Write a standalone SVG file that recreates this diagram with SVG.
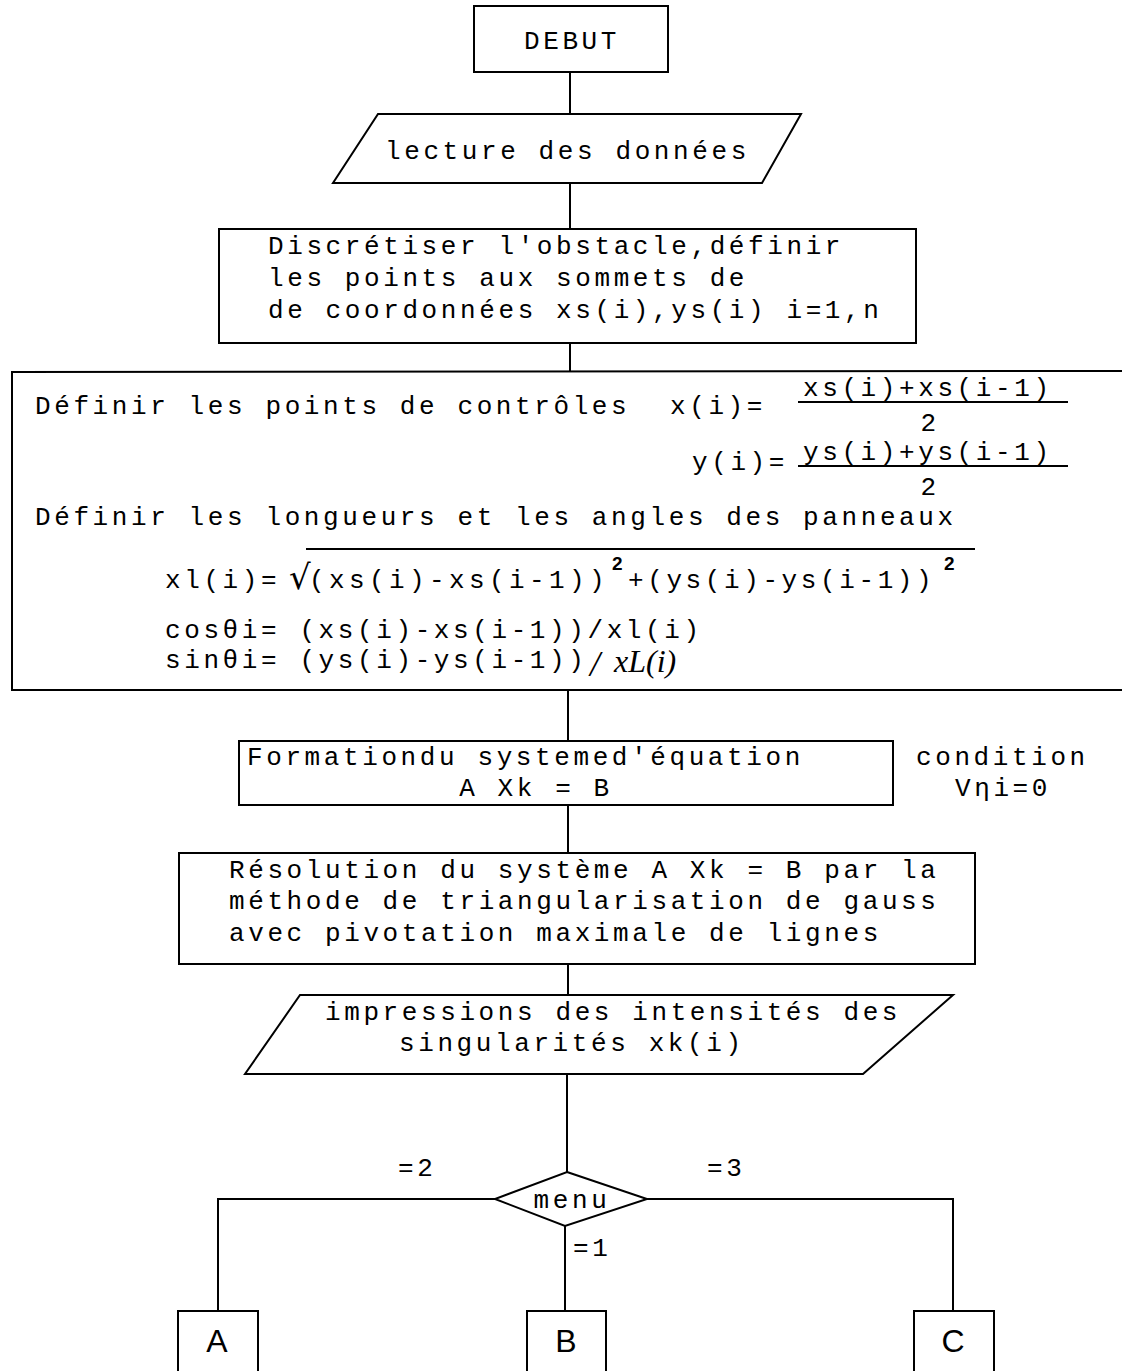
<svg xmlns="http://www.w3.org/2000/svg" width="1122" height="1371" viewBox="0 0 1122 1371">
<style>
.t{font-family:"Liberation Mono","Courier New",monospace;font-size:26px;letter-spacing:3.6px;fill:#000}
.c{text-anchor:middle}
.sup{font-family:"Liberation Sans",Arial,sans-serif;font-size:19px;font-weight:bold;fill:#000}
.hw{font-family:"Liberation Serif","Times New Roman",serif;font-style:italic;font-size:32px;fill:#000}
.big{font-family:"Liberation Sans",Arial,sans-serif;font-size:32px;fill:#000;text-anchor:middle}
.b{fill:#fff;stroke:#000;stroke-width:2}
.ln{fill:none;stroke:#000;stroke-width:2}
</style>
<rect width="1122" height="1371" fill="#fff"/>
<g id="connectors">
<line class="ln" x1="570" y1="72" x2="570" y2="114"/>
<line class="ln" x1="570" y1="183" x2="570" y2="229"/>
<line class="ln" x1="570" y1="343" x2="570" y2="372"/>
<line class="ln" x1="568" y1="690" x2="568" y2="741"/>
<line class="ln" x1="568" y1="805" x2="568" y2="853"/>
<line class="ln" x1="568" y1="964" x2="568" y2="995"/>
<line class="ln" x1="567" y1="1074" x2="567" y2="1172"/>
<polyline class="ln" points="495,1199 218,1199 218,1311"/>
<polyline class="ln" points="647,1199 953,1199 953,1311"/>
<line class="ln" x1="565" y1="1226" x2="565" y2="1311"/>
<text class="t" x="398" y="1176">=2</text>
<text class="t" x="707" y="1176">=3</text>
<text class="t" x="573" y="1256">=1</text>
</g>
<g id="debut">
<rect class="b" x="474" y="6" width="194" height="66"/>
<text class="t c" x="572" y="49">DEBUT</text>
</g>
<g id="lecture">
<polygon class="b" points="378,114 801,114 762,183 333,183"/>
<text class="t" x="385" y="159">lecture des données</text>
</g>
<g id="discretiser">
<rect class="b" x="219" y="229" width="697" height="114"/>
<text class="t" x="268" y="254">Discrétiser l'obstacle,définir</text>
<text class="t" x="268" y="286">les points aux sommets de</text>
<text class="t" x="268" y="318">de coordonnées xs(i),ys(i) i=1,n</text>
</g>
<g id="definir">
<path class="ln" d="M1122,371 L12,372 L12,690 L1122,690"/>
<text class="t" x="35" y="414">Définir les points de contrôles</text>
<text class="t" x="670" y="414">x(i)=</text>
<text class="t" x="803" y="396">xs(i)+xs(i-1)</text>
<line class="ln" x1="798" y1="402" x2="1068" y2="402"/>
<text class="t c" x="930" y="431">2</text>
<text class="t" x="692" y="470">y(i)=</text>
<text class="t" x="803" y="460">ys(i)+ys(i-1)</text>
<line class="ln" x1="798" y1="466" x2="1068" y2="466"/>
<text class="t c" x="930" y="495">2</text>
<text class="t" x="35" y="525">Définir les longueurs et les angles des panneaux</text>
<text class="t" x="165" y="588">xl(i)=</text>
<text x="289" y="589" style="font-family:'DejaVu Sans',sans-serif;font-size:34px">√</text>
<line class="ln" x1="306" y1="549" x2="975" y2="549"/>
<text class="t" x="309" y="588" style="letter-spacing:4.4px">(xs(i)-xs(i-1))</text>
<text class="sup" x="612" y="570">2</text>
<text class="t" x="628" y="588">+(ys(i)-ys(i-1))</text>
<text class="sup" x="944" y="570">2</text>
<text class="t" x="165" y="638">cosθi= (xs(i)-xs(i-1))/xl(i)</text>
<text class="t" x="165" y="668">sinθi= (ys(i)-ys(i-1))</text>
<text x="590" y="676" style="font-family:'Liberation Serif',serif;font-style:italic;font-size:36px">/</text>
<text class="hw" x="614" y="672">xL(i)</text>
</g>
<g id="formation">
<rect class="b" x="239" y="741" width="654" height="64"/>
<text class="t" x="247" y="765">Formationdu systemed'équation</text>
<text class="t c" x="536" y="796">A Xk = B</text>
</g>
<g id="condition">
<text class="t" x="916" y="765">condition</text>
<text class="t c" x="1003" y="796">Vηi=0</text>
</g>
<g id="resolution">
<rect class="b" x="179" y="853" width="796" height="111"/>
<text class="t" x="229" y="878">Résolution du système A Xk = B par la</text>
<text class="t" x="229" y="909">méthode de triangularisation de gauss</text>
<text class="t" x="229" y="941">avec pivotation maximale de lignes</text>
</g>
<g id="impressions">
<polygon class="b" points="300,995 953,995 863,1074 245,1074"/>
<text class="t" x="325" y="1020">impressions des intensités des</text>
<text class="t" x="399" y="1051">singularités xk(i)</text>
</g>
<g id="menu">
<polygon class="b" points="567,1172 647,1199 565,1226 495,1199"/>
<text class="t c" x="572" y="1208">menu</text>
</g>
<g id="A">
<rect class="b" x="178" y="1311" width="80" height="70"/>
<text class="big" x="217" y="1352">A</text>
</g>
<g id="B">
<rect class="b" x="527" y="1311" width="79" height="70"/>
<text class="big" x="566" y="1352">B</text>
</g>
<g id="C">
<rect class="b" x="914" y="1311" width="80" height="70"/>
<text class="big" x="953" y="1352">C</text>
</g>
</svg>
